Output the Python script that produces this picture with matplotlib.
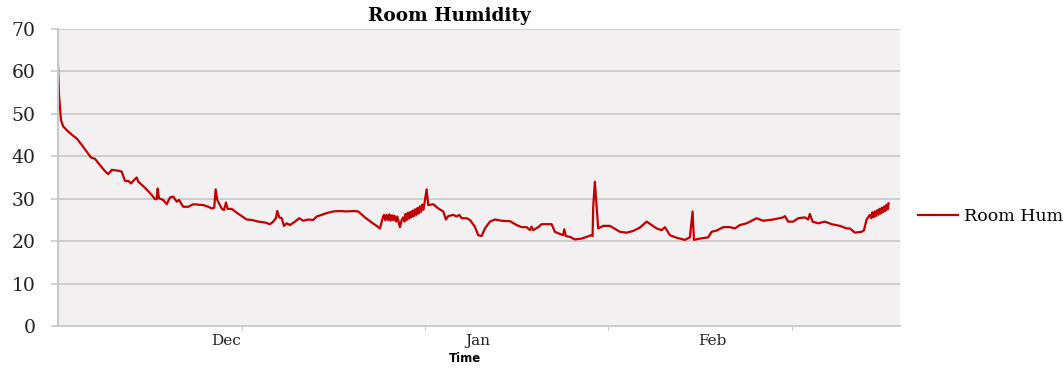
import numpy as np
import matplotlib
matplotlib.use("Agg")
import matplotlib.pyplot as plt

# days since start of logging
days = [
    0.0, 0.13, 0.38, 0.67, 1.30, 1.94, 2.37, 3.00, 3.63, 4.18, 4.68, 5.32, 5.95, 6.37, 6.80,
    7.63, 8.06, 8.48, 8.90, 9.24, 9.53, 9.96, 10.16, 11.01, 11.86, 12.28, 12.49, 12.62, 12.78,
    13.33, 13.76, 14.18, 14.59, 15.03, 15.32, 15.86, 16.49, 17.13, 18.39, 19.03, 19.46, 19.78,
    19.96, 20.16, 20.72, 21.01, 21.27, 21.48, 21.99, 22.62, 23.25, 23.89, 24.52, 25.35, 26.20,
    26.84, 27.25, 27.59, 27.76, 28.01, 28.32, 28.61, 28.95, 29.37, 30.00, 30.54, 31.05, 31.68,
    32.32, 32.75, 33.38, 34.01, 34.85, 35.70, 36.54, 37.38, 38.01, 38.86, 39.71, 40.34, 40.76,
    41.10, 41.27, 41.45, 41.60, 41.80, 41.95, 42.10, 42.30, 42.45, 42.60, 42.80, 42.95, 43.29,
    43.51, 43.70, 43.85, 44.00, 44.15, 44.30, 44.45, 44.60, 44.75, 44.90, 45.05, 45.20, 45.35,
    45.50, 45.65, 45.80, 45.95, 46.10, 46.25, 46.40, 46.67, 46.87, 47.51, 48.14, 48.77, 49.11,
    49.41, 50.04, 50.47, 50.80, 51.10, 51.73, 52.15, 52.78, 53.20, 53.63, 54.05, 54.68, 55.32,
    56.16, 57.22, 58.06, 58.70, 59.33, 59.75, 59.96, 60.16, 60.80, 61.23, 62.49, 62.91, 63.54,
    63.96, 64.09, 64.30, 64.81, 65.44, 66.29, 66.92, 67.47, 67.68, 67.76, 67.97, 68.19, 68.39,
    69.03, 69.87, 71.14, 71.99, 72.82, 73.67, 74.52, 75.15, 75.78, 76.42, 76.84, 77.47, 78.32,
    79.37, 80.00, 80.34, 80.51, 81.27, 82.32, 82.75, 83.38, 84.22, 85.06, 85.70, 86.33, 87.18,
    88.44, 89.28, 90.54, 91.81, 92.03, 92.44, 93.08, 93.71, 94.56, 94.97, 95.19, 95.53, 96.24,
    97.09, 97.94, 98.99, 99.84, 100.25, 100.89, 101.73, 102.03, 102.37, 102.78, 102.95, 103.10,
    103.25, 103.40, 103.55, 103.70, 103.85, 104.00, 104.15, 104.30, 104.45, 104.60, 104.75,
    104.90, 105.05, 105.15,
]
humidity = [
    61.5, 54.4, 48.5, 47.0, 45.8, 44.8, 44.2, 42.7, 41.1, 39.7, 39.4, 37.9, 36.5, 35.8, 36.8,
    36.6, 36.4, 34.2, 34.2, 33.6, 34.2, 35.0, 34.0, 32.6, 30.9, 29.9, 29.9, 32.4, 30.1,
    29.7, 28.7, 30.3, 30.5, 29.3, 29.7, 28.1, 28.1, 28.7, 28.5, 28.1, 27.7, 27.9,
    32.2, 29.7, 27.7, 27.3, 29.1, 27.6, 27.6, 26.7, 25.9, 25.1, 25.0, 24.6, 24.4,
    24.0, 24.6, 25.4, 27.1, 25.6, 25.4, 23.6, 24.2, 23.8, 24.6, 25.4, 24.8, 25.1,
    25.0, 25.8, 26.2, 26.6, 27.0, 27.1, 27.0, 27.1, 27.0, 25.6, 24.4, 23.6, 23.0,
    25.4, 26.2, 24.9, 26.2, 25.0, 26.3, 24.8, 26.1, 24.9, 26.0, 24.6, 25.8, 23.3,
    25.0, 25.6, 24.6, 26.4, 25.0, 26.7, 25.3, 26.9, 25.6, 27.2, 25.9, 27.5, 26.2,
    27.8, 26.5, 28.2, 26.9, 28.6, 27.4, 29.0, 32.2, 28.5, 28.7, 27.7, 27.0, 25.1,
    25.9, 26.2, 25.8, 26.2, 25.4, 25.4, 25.0, 23.4, 21.4, 21.2, 23.0, 24.6, 25.1,
    24.8, 24.7, 23.8, 23.3, 23.3, 22.6, 23.4, 22.6, 23.3, 24.0, 24.0, 22.2, 21.7,
    21.4, 22.8, 21.2, 21.0, 20.4, 20.6, 21.0, 21.4, 21.2, 28.1, 34.0, 28.1, 23.0,
    23.6, 23.6, 22.2, 22.0, 22.4, 23.2, 24.6, 23.8, 23.0, 22.6, 23.3, 21.4, 20.8,
    20.3, 20.9, 27.0, 20.3, 20.6, 20.9, 22.2, 22.5, 23.3, 23.3, 23.0, 23.8, 24.2,
    25.4, 24.8, 25.1, 25.6, 25.9, 24.6, 24.6, 25.4, 25.6, 25.1, 26.4, 24.6, 24.2,
    24.6, 24.0, 23.6, 23.0, 23.0, 22.0, 22.2, 22.5, 25.1, 26.2, 25.4, 26.8,
    25.6, 27.0, 25.9, 27.3, 26.2, 27.6, 26.5, 27.9, 26.8, 28.2, 27.1,
    28.6, 27.5, 28.9,
]

month_pos = [21.3, 53.2, 82.8]
month_labels = ["Dec", "Jan", "Feb"]
tick_pos = [23.3, 46.5, 69.6, 92.9]

fig = plt.figure(figsize=(10.63, 3.8), dpi=100)
ax = fig.add_axes([58 / 1063, 54 / 380, 842 / 1063, 297 / 380])
ax.set_facecolor("#f2f0f0")

# legend in the reference is cut at the image edge, only "Room Hum" shows
ax.plot(days, humidity, color="#c00000", lw=1.6, label="Room Hum")

ax.set_xlim(0, 106.6)
ax.set_ylim(0, 70)
ax.set_yticks(range(0, 71, 10))
ax.yaxis.grid(True, color="#c8c8c8", lw=1.2)
ax.set_axisbelow(True)

ax.set_xticks(month_pos)
ax.set_xticklabels(month_labels)
ax.set_xticks(tick_pos, minor=True)
ax.tick_params(axis="x", which="major", length=0, pad=6)
ax.tick_params(axis="x", which="minor", length=3, color="#bbbbbb")
ax.tick_params(axis="y", length=5, width=1.2, color="#c8c8c8", pad=11)

for lab in ax.get_xticklabels():
    lab.set_fontfamily("DejaVu Serif")
    lab.set_fontsize(11)
    lab.set_color("#222222")
for lab in ax.get_yticklabels():
    lab.set_fontfamily("DejaVu Serif")
    lab.set_fontsize(13.5)
    lab.set_color("#222222")

for side in ["top", "right"]:
    ax.spines[side].set_visible(False)
ax.spines["left"].set_color("#c8c8c8")
ax.spines["left"].set_linewidth(1.5)
ax.spines["bottom"].set_color("#c8c8c8")
ax.spines["bottom"].set_linewidth(1.2)

fig.text(449 / 1063, 1 - 16 / 380, "Room Humidity", ha="center", va="center",
         fontsize=13.3, fontweight="bold", family="DejaVu Serif")
fig.text(465 / 1063, 1 - 358 / 380, "Time", ha="center", va="center",
         fontsize=8.5, fontweight="bold", family="DejaVu Sans")

ax.legend(loc="center left", bbox_to_anchor=(1.0, 0.37), frameon=False,
          borderaxespad=0.65, handlelength=2.3, handletextpad=0.35,
          prop={"family": "DejaVu Serif", "size": 12.5})

fig.savefig("out.png", dpi=100)
